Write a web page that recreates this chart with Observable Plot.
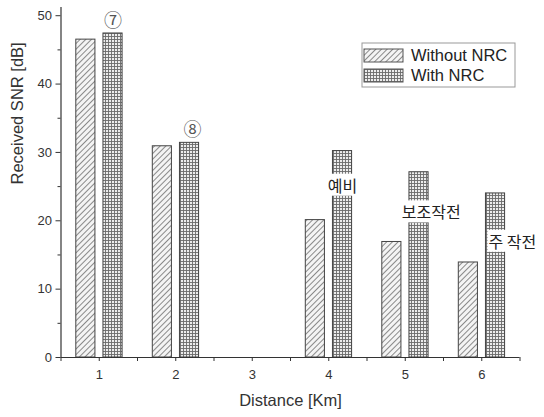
<!DOCTYPE html>
<html>
<head>
<meta charset="utf-8">
<script src="https://cdn.jsdelivr.net/npm/d3@7"></script>
<script src="https://cdn.jsdelivr.net/npm/@observablehq/plot@0.6"></script>
<style>
  html, body { margin: 0; padding: 0; background: #fff; }
  #chart { width: 544px; height: 417px; }
</style>
</head>
<body>
<div id="chart"></div>
<script>
// ---- data ----
const distances = [1, 2, 3, 4, 5, 6];
const withoutNRC = [46.5, 30.9, null, 20.1, 16.9, 13.9];
const withNRC = [47.4, 31.4, null, 30.2, 27.1, 24.0];
const seriesNames = ["Without NRC", "With NRC"];
const yTicks = [0, 10, 20, 30, 40, 50];
const yMinorTicks = [5, 15, 25, 35, 45];
const xMinorTicks = [0.5, 1.5, 2.5, 3.5, 4.5, 5.5, 6.5];
// annotation labels (text, x, y in data units)
const noteText = ["⑦", "⑧", "예비", "보조작전", "주 작전"];
const noteX = [1.18, 2.22, 4.18, 5.34, 6.4];
const noteY = [49.2, 33.2, 25.0, 21.1, 16.8];

const rows = [];
distances.forEach((d, i) => {
  if (withoutNRC[i] != null) rows.push({x: d, v: withoutNRC[i], s: seriesNames[0]});
  if (withNRC[i] != null) rows.push({x: d, v: withNRC[i], s: seriesNames[1]});
});
const notes = noteText.map((t, i) => ({t, x: noteX[i], y: noteY[i]}));

const fontLatin = "'Liberation Sans', Arial, sans-serif";
const fontKr = "'Noto Sans CJK KR', 'Liberation Sans', sans-serif";

const plot = Plot.plot({
  width: 544,
  height: 417,
  marginLeft: 60.5,
  marginRight: 24.5,
  marginTop: 7,
  marginBottom: 60,
  x: {domain: [0.5, 6.5]},
  y: {domain: [0, 51.2]},
  style: {fontFamily: fontLatin, fontSize: "13px", color: "#333", background: "#fff"},
  marks: [
    Plot.rectY(rows.filter(r => r.s === seriesNames[0]), {
      x1: r => r.x - 0.3, x2: r => r.x - 0.05, y: "v",
      fill: "url(#hatchPat)", stroke: "#444", strokeWidth: 1
    }),
    Plot.rectY(rows.filter(r => r.s === seriesNames[1]), {
      x1: r => r.x + 0.055, x2: r => r.x + 0.305, y: "v",
      fill: "url(#gridPat)", stroke: "#444", strokeWidth: 1
    }),
    Plot.text(notes.filter(n => n.t.length > 1), {
      x: "x", y: "y", text: "t", fontFamily: fontKr, fontSize: 16,
      fill: "#222", className: "krnote"
    }),
    Plot.text(notes.filter(n => n.t.length === 1), {
      x: "x", y: "y", text: "t", fontFamily: fontKr, fontSize: 18, fill: "#555"
    }),
    Plot.ruleX([0.5], {stroke: "#333", strokeWidth: 1.2}),
    Plot.ruleY([0], {stroke: "#333", strokeWidth: 1.2}),
    Plot.axisY({ticks: yTicks, tickSize: 5, tickPadding: 4, label: null, fontSize: 13}),
    Plot.axisY({ticks: yMinorTicks, tickSize: 3, text: null, label: null}),
    Plot.axisX({ticks: distances, tickFormat: "d", tickSize: 4, tickPadding: 8, label: null, fontSize: 13}),
    Plot.axisX({ticks: xMinorTicks, tickSize: 4, text: null, label: null}),
    Plot.text(["Distance [Km]"], {frameAnchor: "bottom", dy: 48, fontSize: 16.5, fill: "#333"}),
    Plot.text(["Received SNR [dB]"], {frameAnchor: "left", rotate: -90, dx: -43, dy: 2, fontSize: 16.5, fill: "#333"})
  ]
});

// patterns
const svg = d3.select(plot);
const defs = svg.insert("defs", ":first-child");
const hatch = defs.append("pattern").attr("id", "hatchPat")
  .attr("width", 4).attr("height", 4).attr("patternUnits", "userSpaceOnUse")
  .attr("patternTransform", "rotate(45)");
hatch.append("rect").attr("width", 4).attr("height", 4).attr("fill", "#f4f4f4");
hatch.append("line").attr("x1", 0.5).attr("y1", 0).attr("x2", 0.5).attr("y2", 4)
  .attr("stroke", "#8a8a8a").attr("stroke-width", 1);
const grid = defs.append("pattern").attr("id", "gridPat")
  .attr("width", 3).attr("height", 3).attr("patternUnits", "userSpaceOnUse");
grid.append("rect").attr("width", 3).attr("height", 3).attr("fill", "#ececec");
grid.append("path").attr("d", "M0 0.5 H3 M0.5 0 V3").attr("stroke", "#6a6a6a").attr("stroke-width", 0.9);

// legend
const leg = svg.append("g").attr("transform", "translate(362,43)");
leg.append("rect").attr("width", 153).attr("height", 44).attr("fill", "#fff").attr("stroke", "#999");
const legFills = ["url(#hatchPat)", "url(#gridPat)"];
seriesNames.forEach((name, i) => {
  const g = leg.append("g").attr("transform", `translate(2,${6 + i * 20})`);
  g.append("rect").attr("width", 39).attr("height", 13).attr("fill", legFills[i]).attr("stroke", "#555");
  g.append("text").attr("x", 47).attr("y", 6.5).attr("dy", "0.36em")
    .attr("text-anchor", "start")
    .attr("font-family", fontLatin).attr("font-size", 16.5).attr("fill", "#222").text(name);
});

document.getElementById("chart").appendChild(plot);

// white boxes behind the Korean annotations
svg.selectAll("g.krnote").each(function() {
  const g = d3.select(this);
  g.selectAll("text").each(function() {
    const b = this.getBBox();
    const t = this.getAttribute("transform");
    g.insert("rect", "text")
      .attr("x", b.x - 1).attr("y", b.y + 1).attr("width", b.width + 2).attr("height", b.height - 2)
      .attr("fill", "#fff").attr("transform", t);
  });
});
</script>
</body>
</html>
